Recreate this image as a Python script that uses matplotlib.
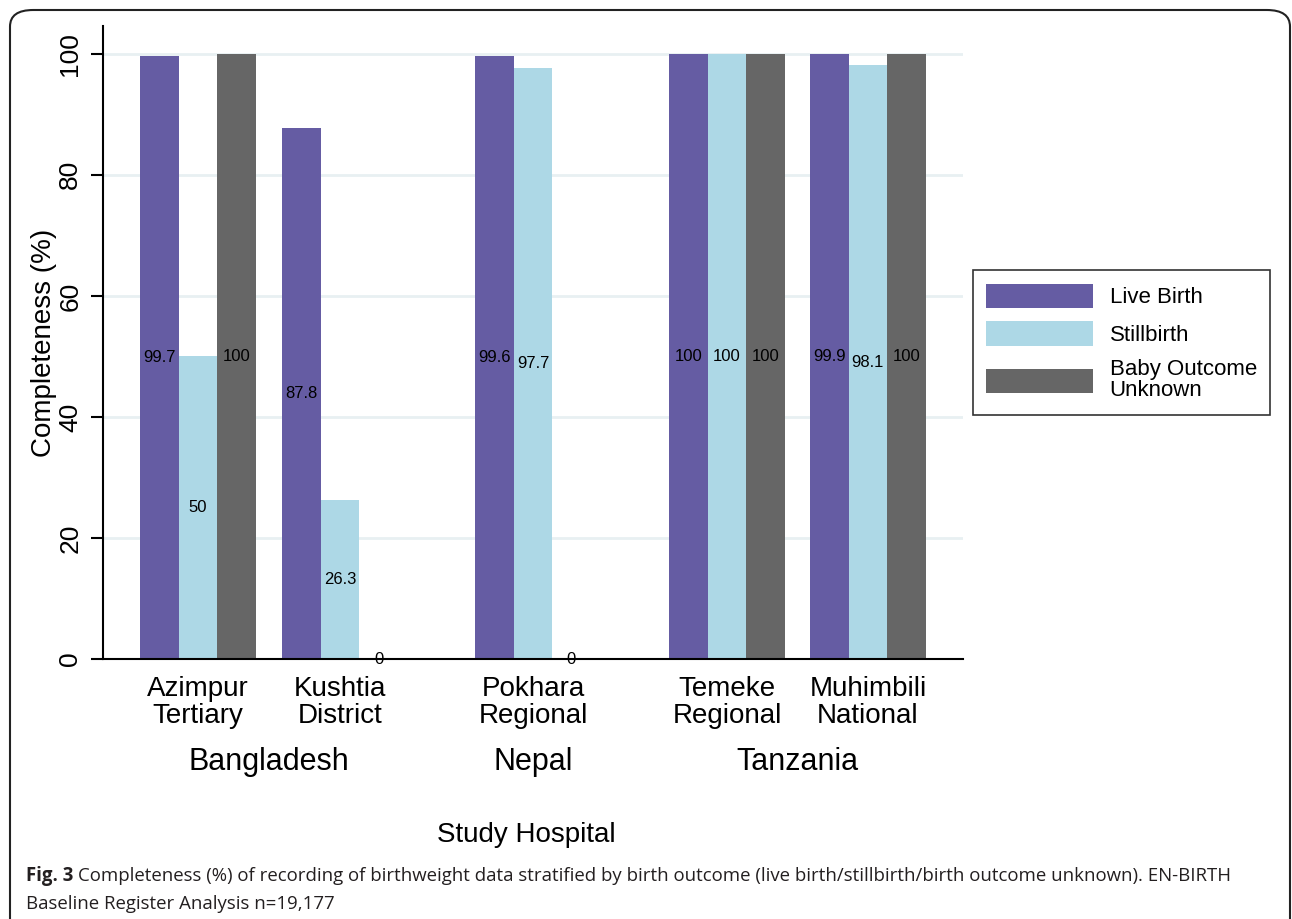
import numpy as np
import matplotlib.pyplot as plt
from matplotlib.patches import FancyBboxPatch, Patch

hospitals = ['Azimpur\nTertiary', 'Kushtia\nDistrict', 'Pokhara\nRegional', 'Temeke\nRegional', 'Muhimbili\nNational']
countries = ['Bangladesh', 'Nepal', 'Tanzania']
series = ['Live Birth', 'Stillbirth', 'Baby Outcome\nUnknown']
live_birth = [99.7, 87.8, 99.6, 100, 99.9]
stillbirth = [50, 26.3, 97.7, 100, 98.1]
unknown = [100, 0, 0, 100, 100]
label_text = [['99.7', '87.8', '99.6', '100', '99.9'],
              ['50', '26.3', '97.7', '100', '98.1'],
              ['100', '0', '0', '100', '100']]

colors = ['#655ca3', '#add8e6', '#666666']

plt.rcParams['font.family'] = ['Liberation Sans', 'DejaVu Sans']

fig = plt.figure(figsize=(12.92, 9.19), dpi=100)
ax = fig.add_axes([103/1292, 260/919, 860/1292, 633/919])

# group centres (bar width = 1)
pos = np.array([2.47, 6.16, 11.17, 16.21, 19.87])
country_pos = [(pos[0] + pos[1]) / 2, pos[2], (pos[3] + pos[4]) / 2]

for i, vals in enumerate([live_birth, stillbirth, unknown]):
    x = pos + (i - 1)
    ax.bar(x, vals, width=1.0, color=colors[i], label=series[i], zorder=2)
    for xi, v, t in zip(x, vals, label_text[i]):
        ax.text(xi, v / 2, t, ha='center', va='center', fontsize=12, zorder=3)

ax.set_xlim(0, 22.34)
ax.set_ylim(0, 104.6)
ax.set_yticks([0, 20, 40, 60, 80, 100])
ax.set_yticklabels(['0', '20', '40', '60', '80', '100'], rotation=90, va='center', fontsize=19)
ax.tick_params(axis='y', length=9, width=1.5, pad=6)
ax.grid(axis='y', color='#e8f0f2', linewidth=2, zorder=0)
ax.set_axisbelow(True)
for s in ['top', 'right']:
    ax.spines[s].set_visible(False)
ax.spines['left'].set_linewidth(1.5)
ax.spines['bottom'].set_linewidth(1.5)

ax.set_xticks(pos)
ax.set_xticklabels(hospitals, fontsize=20, linespacing=1.05)
ax.tick_params(axis='x', length=0, pad=12)

trans = ax.get_xaxis_transform()
for c, cx in zip(countries, country_pos):
    ax.text(cx, -103/633, c, transform=trans, ha='center', va='center', fontsize=22)

ax.set_ylabel('Completeness (%)', fontsize=20, labelpad=1)
fig.text(526/1292, 1 - 835/919, 'Study Hospital', ha='center', va='center', fontsize=20)

handles = [Patch(facecolor=c, edgecolor='none') for c in colors]
leg = fig.legend(handles, series, loc='center left', bbox_to_anchor=(973/1292, 1 - 342.5/919),
                 fontsize=16, frameon=True, fancybox=False, edgecolor='black',
                 handlelength=4.8, handleheight=1.3, handletextpad=0.75,
                 borderpad=0.6, labelspacing=0.6, borderaxespad=0)
leg.get_frame().set_linewidth(1.2)
for t in leg.get_texts():
    t.set_linespacing(1.0)

# outer rounded frame
frame = FancyBboxPatch((10/1292, -0.05), 1280/1292, 1 - 10/919 + 0.05,
                       boxstyle='round,pad=0,rounding_size=0.018',
                       transform=fig.transFigure, fill=False, edgecolor='#222222',
                       linewidth=1.5, clip_on=False)
fig.patches.append(frame)

# caption
cap_font = ['Open Sans', 'DejaVu Sans']
cap_size = 13.4
fig.canvas.draw()
r = fig.canvas.get_renderer()
t1 = fig.text(26/1292, 1 - 876/919, 'Fig. 3', fontsize=cap_size, fontweight='bold',
              family=cap_font, color='#231f20', va='center')
bb = t1.get_window_extent(renderer=r)
fig.text((bb.x1 + 5) / 1292, 1 - 876/919,
         'Completeness (%) of recording of birthweight data stratified by birth outcome '
         '(live birth/stillbirth/birth outcome unknown). EN-BIRTH',
         fontsize=cap_size, family=cap_font, color='#231f20', va='center')
fig.text(26/1292, 1 - 904/919, 'Baseline Register Analysis n=19,177',
         fontsize=cap_size, family=cap_font, color='#231f20', va='center')

fig.savefig('out.png', dpi=100)
